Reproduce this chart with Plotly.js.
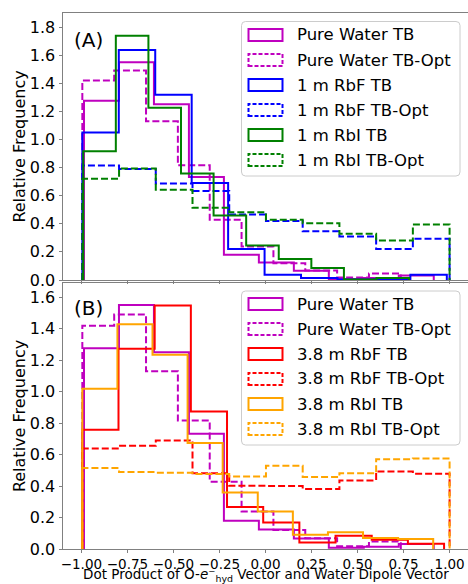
<!DOCTYPE html>
<html>
<head>
<meta charset="utf-8">
<script src="https://cdn.plot.ly/plotly-3.0.1.min.js"></script>
<style>html,body{margin:0;padding:0;background:#fff;}#chart{width:468px;height:584px;}</style>
</head>
<body>
<div id="chart"></div>
<script>
// ---------- data (density histograms, 10 bins each, bins span [lo, hi]) ----------
const binCount = 10;

// Panel A
const pureTB_range = [-0.986, 0.914];
const pureTB_vals = [1.276, 1.55, 1.25, 0.733, 0.18, 0.124, 0.066, 0.008, 0.014, 0.032];
const pureOpt_range = [-0.995, 0.735];
const pureOpt_vals = [1.419, 1.49, 1.13, 0.816, 0.428, 0.238, 0.12, 0.068, 0.018, 0.047];
const rbf1TB_range = [-0.995, 0.985];
const rbf1TB_vals = [1.05, 1.636, 1.319, 0.69, 0.221, 0.038, 0.014, 0.004, 0.005, 0.038];
const rbf1Opt_range = [-0.995, 1.0];
const rbf1Opt_vals = [0.814, 0.79, 0.686, 0.633, 0.466, 0.419, 0.347, 0.309, 0.221, 0.293];
const rbi1TB_range = [-0.99, 0.78];
const rbi1TB_vals = [0.916, 1.738, 1.226, 0.757, 0.459, 0.245, 0.15, 0.086, 0.004, 0.014];
const rbi1Opt_range = [-0.995, 1.0];
const rbi1Opt_vals = [0.721, 0.793, 0.643, 0.514, 0.483, 0.429, 0.404, 0.329, 0.281, 0.395];

// Panel B
const rbf38TB_range = [-0.995, 0.97];
const rbf38TB_vals = [0.757, 1.272, 1.547, 0.874, 0.267, 0.169, 0.042, 0.084, 0.059, 0.034];
const rbf38Opt_range = [-0.995, 1.0];
const rbf38Opt_vals = [0.639, 0.656, 0.69, 0.482, 0.402, 0.40, 0.381, 0.436, 0.493, 0.478];
const rbi38TB_range = [-0.995, 0.911];
const rbi38TB_vals = [1.018, 1.428, 1.234, 0.673, 0.359, 0.239, 0.091, 0.106, 0.07, 0.063];
const rbi38Opt_range = [-0.995, 1.0];
const rbi38Opt_vals = [0.514, 0.489, 0.485, 0.476, 0.461, 0.529, 0.457, 0.482, 0.571, 0.575];

const labelsA = ["Pure Water TB", "Pure Water TB-Opt", "1 m RbF TB", "1 m RbF TB-Opt", "1 m RbI TB", "1 m RbI TB-Opt"];
const labelsB = ["Pure Water TB", "Pure Water TB-Opt", "3.8 m RbF TB", "3.8 m RbF TB-Opt", "3.8 m RbI TB", "3.8 m RbI TB-Opt"];

const xTicks = [-1, -0.75, -0.5, -0.25, 0, 0.25, 0.5, 0.75, 1];
const yTicksA = [0, 0.2, 0.4, 0.6, 0.8, 1.0, 1.2, 1.4, 1.6, 1.8];
const yTicksB = [0, 0.2, 0.4, 0.6, 0.8, 1.0, 1.2, 1.4, 1.6];
const xTitle = 'Dot Product of O-<i>e</i>\u207B<sub>hyd</sub> Vector and Water Dipole Vector';
const yTitle = 'Relative Frequency';

// ---------- styling ----------
const MAG = '#bf00bf', BLUE = '#0000ff', GREEN = '#008000', RED = '#ff0000', ORANGE = '#ffa500';
const DASH = '7px,3px';
const FONT = 'DejaVu Sans, sans-serif';

function stepTrace(range, vals, color, dashed, xa, ya) {
  const lo = range[0], hi = range[1];
  const w = (hi - lo) / binCount;
  const xs = [lo], ys = [0];
  for (let i = 0; i < vals.length; i++) { xs.push(lo + i * w); ys.push(vals[i]); }
  xs.push(hi); ys.push(0);
  return {
    type: 'scatter', mode: 'lines', x: xs, y: ys, xaxis: xa, yaxis: ya,
    line: {shape: 'hv', color: color, width: 2, dash: dashed ? DASH : 'solid'},
    hoverinfo: 'skip', showlegend: false
  };
}

const seriesA = [
  [pureTB_range, pureTB_vals, MAG, false],
  [pureOpt_range, pureOpt_vals, MAG, true],
  [rbf1TB_range, rbf1TB_vals, BLUE, false],
  [rbf1Opt_range, rbf1Opt_vals, BLUE, true],
  [rbi1TB_range, rbi1TB_vals, GREEN, false],
  [rbi1Opt_range, rbi1Opt_vals, GREEN, true]
];
const seriesB = [
  [pureTB_range, pureTB_vals, MAG, false],
  [pureOpt_range, pureOpt_vals, MAG, true],
  [rbf38TB_range, rbf38TB_vals, RED, false],
  [rbf38Opt_range, rbf38Opt_vals, RED, true],
  [rbi38TB_range, rbi38TB_vals, ORANGE, false],
  [rbi38Opt_range, rbi38Opt_vals, ORANGE, true]
];

const traces = [];
seriesA.forEach(s => traces.push(stepTrace(s[0], s[1], s[2], s[3], 'x', 'y')));
seriesB.forEach(s => traces.push(stepTrace(s[0], s[1], s[2], s[3], 'x2', 'y2')));

// ---------- layout helpers (pixel -> paper) ----------
const ML = 63, MR = 0, MT = 13, MB = 35, W = 468, H = 584;
const PW = W - ML - MR, PH = H - MT - MB;
const PX = px => (px - ML) / PW;
const PY = py => (H - MB - py) / PH;

const shapes = [], annotations = [];

function roundRect(x0p, x1p, topp, botp, r) {
  const x0 = PX(x0p), x1 = PX(x1p), yt = PY(topp), yb = PY(botp);
  const rx = r / PW, ry = r / PH;
  return `M${x0 + rx},${yt} L${x1 - rx},${yt} Q${x1},${yt} ${x1},${yt - ry} L${x1},${yb + ry} Q${x1},${yb} ${x1 - rx},${yb} L${x0 + rx},${yb} Q${x0},${yb} ${x0},${yb + ry} L${x0},${yt - ry} Q${x0},${yt} ${x0 + rx},${yt} Z`;
}

function addLegend(series, labels, boxTop, boxBot, firstRow) {
  shapes.push({type: 'path', xref: 'paper', yref: 'paper', path: roundRect(241.5, 460, boxTop, boxBot, 4),
    fillcolor: 'rgba(255,255,255,0.8)', line: {color: '#cccccc', width: 1}, layer: 'above'});
  series.forEach((s, i) => {
    const cy = firstRow + i * 25;
    shapes.push({type: 'rect', xref: 'paper', yref: 'paper',
      x0: PX(248.5), x1: PX(282.5), y0: PY(cy + 6), y1: PY(cy - 6),
      line: {color: s[2], width: 2, dash: s[3] ? '4px,2px' : 'solid'}, fillcolor: 'rgba(0,0,0,0)', layer: 'above'});
    annotations.push({xref: 'paper', yref: 'paper', x: PX(295), y: PY(cy), xanchor: 'left', yanchor: 'middle',
      text: labels[i], showarrow: false, font: {family: FONT, size: 16.5, color: '#000'}});
  });
}
addLegend(seriesA, labelsA, 21.5, 176, 35);
addLegend(seriesB, labelsB, 291, 445, 304);

annotations.push({xref: 'paper', yref: 'paper', x: PX(88), y: PY(40), xanchor: 'center', yanchor: 'middle',
  text: '(A)', showarrow: false, font: {family: FONT, size: 20, color: '#000'}});
annotations.push({xref: 'paper', yref: 'paper', x: PX(88), y: PY(308), xanchor: 'center', yanchor: 'middle',
  text: '(B)', showarrow: false, font: {family: FONT, size: 20, color: '#000'}});
// x-axis title of the shared bottom axis
annotations.push({xref: 'paper', yref: 'paper', x: PX(266), y: PY(586), xanchor: 'center', yanchor: 'bottom',
  text: xTitle, showarrow: false, font: {family: FONT, size: 13.5, color: '#000'}});

const AX = '#808080';
const xBase = {
  range: [-1.1, 1.1], tickvals: xTicks, tickformat: '.2f', ticks: 'outside', ticklen: 3, tickcolor: AX,
  tickangle: 0,
  showline: true, linecolor: AX, linewidth: 1, mirror: true, showgrid: false, zeroline: false,
  tickfont: {family: FONT, size: 13.5, color: '#000'}
};
const yBase = {
  tickformat: '.1f', ticks: 'outside', ticklen: 3.5, tickcolor: AX,
  showline: true, linecolor: AX, linewidth: 1, showgrid: false, zeroline: false,
  tickfont: {family: FONT, size: 16, color: '#000'},
  title: {text: yTitle, font: {family: FONT, size: 16, color: '#000'}, standoff: 0}
};

const layout = {
  width: W, height: H,
  margin: {l: ML, r: MR, t: MT, b: MB, pad: 0},
  paper_bgcolor: '#fff', plot_bgcolor: '#fff',
  showlegend: false,
  font: {family: FONT, color: '#000'},
  xaxis: Object.assign({}, xBase, {anchor: 'y', showticklabels: false}),
  yaxis: Object.assign({}, yBase, {domain: [PY(280), 1], range: [0, 1.9], tickvals: yTicksA}),
  xaxis2: Object.assign({}, xBase, {anchor: 'y2', showticklabels: true}),
  yaxis2: Object.assign({}, yBase, {domain: [0, PY(283)], range: [0, 1.69], tickvals: yTicksB}),
  shapes: shapes,
  annotations: annotations
};

Plotly.newPlot('chart', traces, layout, {staticPlot: true, displayModeBar: false});
</script>
</body>
</html>
